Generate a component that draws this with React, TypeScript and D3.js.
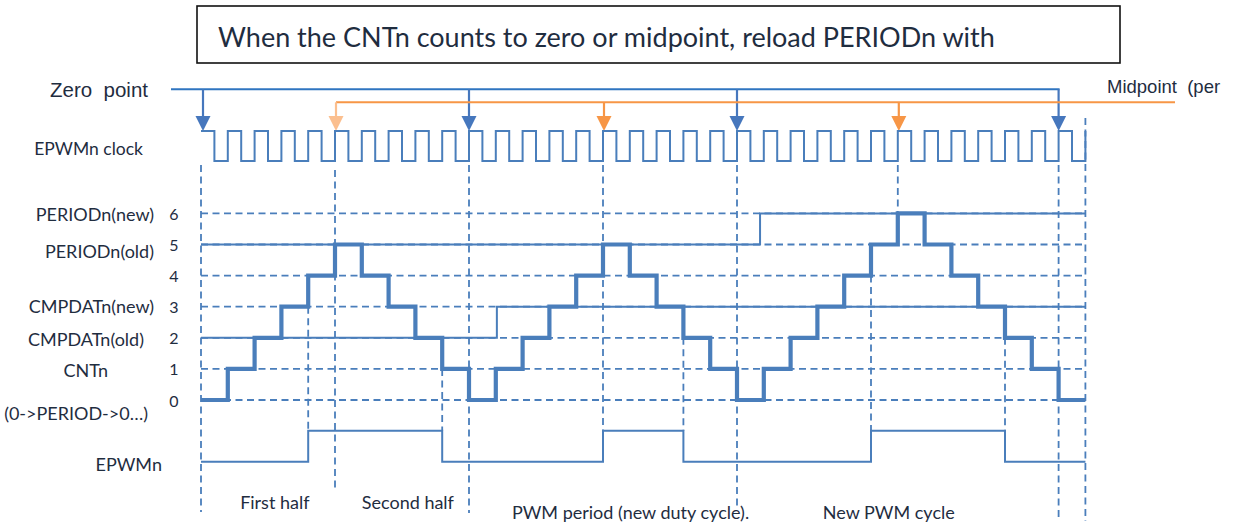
import React from "react";
import * as d3 from "d3";

// ---------- data ----------
const cntValues = [0, 1, 2, 3, 4, 5, 4, 3, 2, 1, 0, 1, 2, 3, 4, 5, 4, 3, 2, 1, 0, 1, 2, 3, 4, 5, 6, 5, 4, 3, 2, 1, 0];
const levelTicks = [0, 1, 2, 3, 4, 5, 6];
const zeroPoints = [0, 10, 20, 32];
const midPoints = [5, 15, 26];
const epwmEdges = [0, 4, 9, 15, 18, 25, 30];
const epwmStates = [0, 1, 0, 1, 0, 1, 0];
const periodTimes = [0, 20.86];
const periodVals = [5, 6];
const cmpTimes = [0, 11.04];
const cmpVals = [2, 3];
const rowLabels = ["PERIODn(new)", "PERIODn(old)", "CMPDATn(new)", "CMPDATn(old)", "CNTn", "(0->PERIOD->0…)"];
const rowLabelLevels = [6, 5, 3, 2, 1, 0];
const phaseLabels = ["First half", "Second half", "PWM period (new duty cycle).", "New PWM cycle"];
const phaseStarts = [1.46, 6.0, 11.6, 23.2];
const titleText = "When the CNTn counts to zero or midpoint, reload PERIODn with";

const W = 1240;
const H = 524;
const BLUE = "#4a7ebb";
const ZBLUE = "#2f75c0";
const ORANGE = "#f79646";
const LORANGE = "#fbbf8f";
const TXT = "#1f2d3f";
const LATO = "Lato, 'Open Sans', sans-serif";
const ARIAL = "'Liberation Sans', Arial, sans-serif";

export default function App() {
  const N = cntValues.length;
  const x = d3.scaleLinear().domain([0, N]).range([201, 1085.4]);
  const y = d3.scaleLinear().domain([0, 6]).range([400, 213.4]);
  const clkHigh = 131;
  const clkLow = 161;
  const epY = d3.scaleLinear().domain([0, 1]).range([461.7, 430.7]);

  // clock path
  let clk = `M${x(0)},${clkHigh}`;
  for (let i = 0; i < N; i++) {
    clk += `H${x(i + 0.5)}V${clkLow}H${x(i + 1)}V${clkHigh}`;
  }

  const stepLine = d3
    .line<[number, number]>()
    .x((d) => x(d[0]))
    .y((d) => y(d[1]))
    .curve(d3.curveStepAfter);

  const cntPts: [number, number][] = cntValues.map((v, i) => [i, v] as [number, number]);
  cntPts.push([N, cntValues[N - 1]]);

  const perPts: [number, number][] = periodTimes.map((t, i) => [t, periodVals[i]] as [number, number]);
  perPts.push([N, periodVals[periodVals.length - 1]]);
  const cmpPts: [number, number][] = cmpTimes.map((t, i) => [t, cmpVals[i]] as [number, number]);
  cmpPts.push([N, cmpVals[cmpVals.length - 1]]);

  const epLine = d3
    .line<[number, number]>()
    .x((d) => x(d[0]))
    .y((d) => epY(d[1]))
    .curve(d3.curveStepAfter);
  const epPts: [number, number][] = epwmEdges.map((t, i) => [t, epwmStates[i]] as [number, number]);
  epPts.push([N, epwmStates[epwmStates.length - 1]]);

  const dash = "7,4.5";
  const vTop = 165;

  // full-height vertical dashed lines: [step, yTop, yBottom]
  const fullVerticals: [number, number, number][] = [
    [zeroPoints[0], vTop, 512],
    [midPoints[0], 170, 488],
    [zeroPoints[1], vTop, 513],
    [midPoints[1], vTop, epY(1)],
    [zeroPoints[2], vTop, 507],
    [midPoints[2], vTop, y(6)],
    [zeroPoints[3], vTop, 521],
    [N, 118, 521],
  ];
  // dashed from counter transitions down to EPWM edges
  const edgeVerticals = epwmEdges.slice(1).filter((t) => !midPoints.includes(t));

  const arrow = (cx: number, yTopLine: number, color: string, key: string) => {
    const tipY = clkHigh;
    const headH = 15;
    const headW = 7.5;
    return (
      <g key={key}>
        <line x1={cx} x2={cx} y1={yTopLine} y2={tipY - headH + 1} stroke={color} strokeWidth={2.2} />
        <path d={`M${cx - headW},${tipY - headH}L${cx + headW},${tipY - headH}L${cx},${tipY}Z`} fill={color} />
      </g>
    );
  };

  return (
    <svg width={W} height={H} style={{ position: "absolute", left: 0, top: 0, background: "#fff" }}>
      {/* title box */}
      <rect x={197} y={6} width={923} height={57} fill="#fff" stroke="#111" strokeWidth={1.6} />
      <text x={218} y={46.5} fontFamily={LATO} fontSize={27} fill={TXT}>
        {titleText}
      </text>

      {/* zero point line */}
      <text x={50} y={97} fontFamily={ARIAL} fontSize={20.5} fill={TXT} style={{ whiteSpace: "pre" }}>
        {"Zero  point"}
      </text>
      <line x1={171} x2={x(zeroPoints[zeroPoints.length - 1]) + 1} y1={89.3} y2={89.3} stroke={ZBLUE} strokeWidth={2} />
      {zeroPoints.map((s, i) => arrow(x(s) + (i === 0 ? 2 : 0), 89.3, "#4677bd", "z" + i))}

      {/* midpoint line */}
      <text x={1107} y={93} fontFamily={ARIAL} fontSize={18.5} fill={TXT} style={{ whiteSpace: "pre" }}>
        {"Midpoint  (per"}
      </text>
      <line x1={x(midPoints[0]) + 1} x2={1175} y1={102.3} y2={102.3} stroke={ORANGE} strokeWidth={2} />
      {midPoints.map((s, i) => arrow(x(s) + 1, 102.3, i === 0 ? LORANGE : ORANGE, "m" + i))}

      {/* clock */}
      <text x={143} y={155} textAnchor="end" fontFamily={LATO} fontSize={17.5} fill={TXT}>
        EPWMn clock
      </text>
      <path d={clk} fill="none" stroke={BLUE} strokeWidth={2} />

      {/* horizontal dashed levels */}
      {levelTicks.map((v) => (
        <line key={"h" + v} x1={x(0)} x2={x(N)} y1={y(v)} y2={y(v)} stroke={BLUE} strokeWidth={1.8} strokeDasharray={dash} />
      ))}

      {/* vertical dashed */}
      {fullVerticals.map(([s, a, b], i) => (
        <line key={"v" + i} x1={x(s)} x2={x(s)} y1={a} y2={b} stroke={BLUE} strokeWidth={1.8} strokeDasharray={dash} />
      ))}
      {edgeVerticals.map((s, i) => {
        const lo = Math.min(cntValues[s], cntValues[s - 1]);
        return (
          <line key={"e" + i} x1={x(s)} x2={x(s)} y1={y(lo)} y2={epY(1)} stroke={BLUE} strokeWidth={1.8} strokeDasharray={dash} />
        );
      })}

      {/* period & cmp */}
      <path d={stepLine(perPts) || ""} fill="none" stroke={BLUE} strokeWidth={2} />
      <path d={stepLine(cmpPts) || ""} fill="none" stroke={BLUE} strokeWidth={2} />

      {/* counter */}
      <path d={stepLine(cntPts) || ""} fill="none" stroke={BLUE} strokeWidth={4.2} />

      {/* level numbers */}
      {levelTicks.map((v) => (
        <text key={"t" + v} x={174} y={y(v) + 6.5} textAnchor="middle" fontFamily={LATO} fontSize={16} fill={TXT}>
          {v}
        </text>
      ))}

      {/* row labels */}
      {rowLabels.map((t, i) => {
        const lv = rowLabelLevels[i];
        const last = i === rowLabels.length - 1;
        const yy = last ? y(lv) + 20 : y(lv) + 8 + (lv === 5 ? 5 : 0) + (lv === 3 ? -2 : 0);
        return (
          <text key={"r" + i} x={last ? 148 : lv === 1 ? 108 : lv === 2 ? 144 : 154} y={yy} textAnchor="end" fontFamily={LATO} fontSize={18} fill={TXT}>
            {t}
          </text>
        );
      })}

      {/* EPWM */}
      <text x={162} y={471} textAnchor="end" fontFamily={LATO} fontSize={18} fill={TXT}>
        EPWMn
      </text>
      <path d={epLine(epPts) || ""} fill="none" stroke={BLUE} strokeWidth={2} />

      {/* phase labels */}
      {phaseLabels.map((t, i) => (
        <text key={"p" + i} x={x(phaseStarts[i])} y={i < 2 ? 509 : 519} fontFamily={LATO} fontSize={18} fill={TXT}>
          {t}
        </text>
      ))}
    </svg>
  );
}
